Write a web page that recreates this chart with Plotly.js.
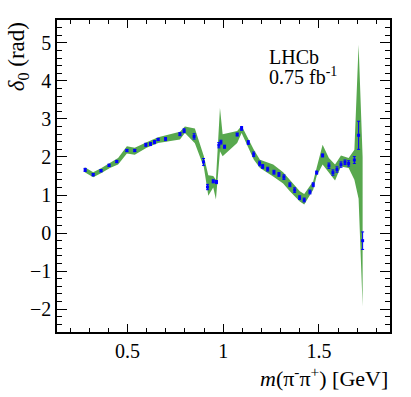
<!DOCTYPE html>
<html>
<head>
<meta charset="utf-8">
<script src="https://cdn.plot.ly/plotly-3.0.1.min.js"></script>
<style>
body{margin:0;}
#plot{width:411px;height:397px;}
.modebar-container{display:none !important;}
</style>
</head>
<body>
<div id="plot"></div>
<script>
// points (blue) with their errors
var mass = [0.279,0.321,0.362,0.404,0.444,0.497,0.538,0.596,0.620,0.641,0.660,0.699,0.774,0.796,0.848,0.897,0.918,0.948,0.965,0.977,0.988,1.007,1.073,1.096,1.131,1.159,1.190,1.206,1.232,1.265,1.291,1.317,1.348,1.373,1.399,1.423,1.453,1.470,1.488,1.519,1.552,1.573,1.594,1.615,1.636,1.655,1.685,1.707,1.728];
var delta0 = [1.66,1.535,1.64,1.78,1.88,2.17,2.17,2.32,2.34,2.39,2.46,2.47,2.60,2.69,2.54,1.87,1.21,1.36,1.34,2.31,2.39,2.27,2.59,2.75,2.38,2.07,1.83,1.75,1.68,1.60,1.54,1.47,1.27,1.13,0.93,0.87,1.08,1.27,1.59,2.04,1.77,1.59,1.67,1.80,1.86,1.83,1.92,2.57,-0.20];
var delta0_err = [0.04,0.03,0.03,0.03,0.03,0.03,0.03,0.04,0.04,0.04,0.03,0.04,0.04,0.05,0.07,0.09,0.07,0.04,0.04,0.07,0.05,0.04,0.04,0.05,0.05,0.06,0.06,0.05,0.05,0.05,0.05,0.06,0.05,0.06,0.05,0.05,0.05,0.05,0.04,0.04,0.07,0.07,0.07,0.07,0.06,0.07,0.09,0.37,0.23];

// green band
var band_x = [0.277,0.321,0.364,0.408,0.451,0.497,0.538,0.600,0.660,0.774,0.800,0.852,0.899,0.922,0.948,0.962,0.983,0.997,1.073,1.096,1.131,1.160,1.192,1.261,1.313,1.348,1.400,1.423,1.470,1.488,1.519,1.552,1.584,1.615,1.655,1.685,1.707,1.728];
var band_hi = [1.73,1.60,1.71,1.84,1.97,2.28,2.24,2.39,2.52,2.66,2.80,2.75,2.02,1.52,1.50,1.40,3.29,2.60,2.68,2.82,2.46,2.19,1.93,1.80,1.60,1.40,1.10,1.03,1.36,1.72,2.32,1.97,1.80,2.04,1.97,2.19,4.95,2.00];
var band_lo = [1.60,1.47,1.58,1.71,1.80,2.09,2.06,2.24,2.37,2.46,2.63,2.36,1.73,0.98,1.20,0.88,2.15,2.02,2.37,2.63,2.24,1.93,1.71,1.49,1.30,1.10,0.83,0.75,1.14,1.50,1.80,1.58,1.38,1.75,1.71,1.40,0.90,-1.93];

var poly_x = band_x.concat(band_x.slice().reverse());
var poly_y = band_hi.concat(band_lo.slice().reverse());

var band = {
    x: poly_x,
    y: poly_y,
    type: 'scatter',
    mode: 'lines',
    fill: 'toself',
    fillcolor: 'rgb(88,168,78)',
    line: {width: 0, color: 'rgba(0,0,0,0)'},
    hoverinfo: 'skip'
};

var points = {
    x: mass,
    y: delta0,
    type: 'scatter',
    mode: 'markers',
    marker: {symbol: 'square', size: 3, color: 'rgb(0,0,255)'},
    error_y: {type: 'data', array: delta0_err, color: 'rgb(0,0,255)', thickness: 1, width: 1.5}
};

var layout = {
    width: 411,
    height: 397,
    margin: {l: 57, r: 21, t: 20, b: 65},
    showlegend: false,
    font: {family: 'Liberation Serif', size: 20, color: 'black'},
    xaxis: {
        range: [0.132, 1.871],
        tick0: 0, dtick: 0.5,
        ticks: 'inside', ticklen: 8, tickwidth: 1, tickcolor: 'black',
        minor: {dtick: 0.1, ticks: 'inside', ticklen: 4, tickwidth: 1, tickcolor: 'black'},
        showline: true, linewidth: 1.5, linecolor: 'black', mirror: 'ticks',
        showgrid: false, zeroline: false
    },
    yaxis: {
        range: [-2.6, 5.6],
        tick0: 0, dtick: 1,
        ticks: 'inside', ticklen: 10, tickwidth: 1, tickcolor: 'black',
        minor: {dtick: 0.2, ticks: 'inside', ticklen: 5, tickwidth: 1, tickcolor: 'black'},
        showline: true, linewidth: 1.5, linecolor: 'black', mirror: 'ticks',
        showgrid: false, zeroline: false
    },
    annotations: [
        {text: '<i>m</i>(π<sup>-</sup>π<sup>+</sup>) [GeV]', xref: 'paper', yref: 'paper', x: 1, y: -0.145,
         xanchor: 'right', yanchor: 'middle', showarrow: false, font: {size: 22}},
        {text: '<i>δ</i><sub>0</sub> (rad)', xref: 'paper', yref: 'paper', x: -0.118, y: 1,
         xanchor: 'center', yanchor: 'top', textangle: -90, showarrow: false, font: {size: 23}},
        {text: 'LHCb', xref: 'paper', yref: 'paper', x: 0.63, y: 0.88,
         xanchor: 'left', yanchor: 'middle', showarrow: false},
        {text: '0.75 fb<sup>-1</sup>', xref: 'paper', yref: 'paper', x: 0.63, y: 0.82,
         xanchor: 'left', yanchor: 'middle', showarrow: false}
    ]
};

Plotly.newPlot('plot', [band, points], layout);
</script>
</body>
</html>
